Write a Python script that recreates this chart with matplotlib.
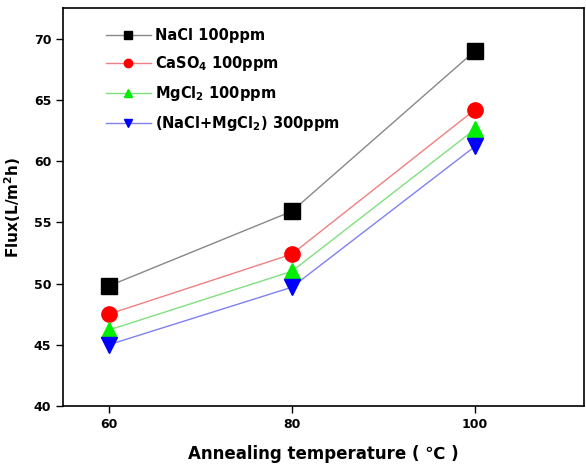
import matplotlib
matplotlib.use('Agg')
import matplotlib.pyplot as plt

temps = [60, 80, 100]
nacl = [49.8, 55.9, 69.0]
caso4 = [47.5, 52.4, 64.2]
mgcl2 = [46.2, 51.0, 62.6]
mixed = [45.0, 49.7, 61.2]

labels = ['NaCl 100ppm', r'CaSO$_4$ 100ppm', r'MgCl$_2$ 100ppm', r'(NaCl+MgCl$_2$) 300ppm']
series = [nacl, caso4, mgcl2, mixed]
line_colors = ['#888888', '#f08080', '#80e080', '#8080f0']
marker_colors = ['black', 'red', '#00ee00', 'blue']
markers = ['s', 'o', '^', 'v']

plt.rcParams['font.family'] = 'DejaVu Sans'
plt.rcParams['font.weight'] = 'bold'
plt.rcParams['mathtext.default'] = 'bf'

fig = plt.figure(figsize=(5.86, 4.71), dpi=100)
ax = fig.add_axes([0.1075, 0.138, 0.889, 0.845])

for vals, lc, mc, m, lab in zip(series, line_colors, marker_colors, markers, labels):
    ax.plot(temps, vals, color=lc, lw=1.0, zorder=1)
    ax.plot(temps, vals, ls='none', marker=m, ms=11, color=mc, zorder=2)
    # legend proxy with small marker
    ax.plot([], [], color=lc, lw=1.0, marker=m, ms=6, mfc=mc, mec=mc, label=lab)

ax.set_xlim(55, 111.9)
ax.set_ylim(40, 72.5)
ax.set_xticks(temps)
ax.set_yticks([40, 45, 50, 55, 60, 65, 70])
ax.tick_params(direction='out', length=5, width=1, labelsize=9)
for lbl in ax.get_xticklabels() + ax.get_yticklabels():
    lbl.set_fontweight('bold')
for s in ax.spines.values():
    s.set_linewidth(1.2)

ax.set_xlabel('Annealing temperature ( ℃ )', fontsize=12, fontweight='bold', labelpad=10)
ax.set_ylabel(r'Flux(L/m$^2$h)', fontsize=11, fontweight='bold', labelpad=8)

ax.legend(loc='upper left', bbox_to_anchor=(0.065, 0.972), frameon=False, fontsize=10.5,
          handlelength=3.1, labelspacing=0.75, borderaxespad=0.2, handletextpad=0.3)

fig.savefig('out.png', dpi=100)
